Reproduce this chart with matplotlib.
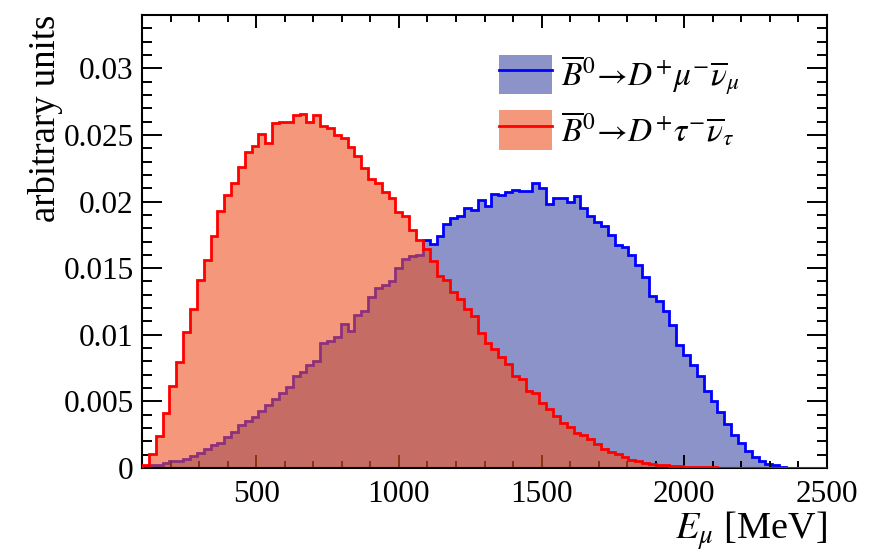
import matplotlib
matplotlib.use('Agg')
import matplotlib.pyplot as plt
import numpy as np
from matplotlib.ticker import MultipleLocator, FuncFormatter
from matplotlib.patches import Patch
from matplotlib.lines import Line2D

plt.rcParams['font.family'] = ['Liberation Serif', 'DejaVu Serif']
plt.rcParams['mathtext.fontset'] = 'stix'

# histogram binning: 100 bins between 100 and 2500 MeV
e_lo = 100
e_hi = 2500
n_bins = 100

# B0 -> D+ mu- nu (blue)
mu_vals = [
    0.0001, 0.0002, 0.00025, 0.00035, 0.0005, 0.00055, 0.00065, 0.0009, 0.00115, 0.0014,
    0.0017, 0.0019, 0.00235, 0.0027, 0.0032, 0.0035, 0.0038, 0.0043, 0.00475, 0.0052,
    0.0056, 0.0061, 0.0069, 0.0072, 0.0077, 0.0080, 0.0094, 0.0095, 0.0098, 0.0108,
    0.0103, 0.0115, 0.0118, 0.0128, 0.0135, 0.0137, 0.0140, 0.0150, 0.0157, 0.0159,
    0.0160, 0.0171, 0.0168, 0.0174, 0.0183, 0.0188, 0.0189, 0.0195, 0.0194, 0.0201,
    0.0197, 0.0206, 0.0205, 0.0207, 0.0209, 0.0208, 0.0208, 0.0214, 0.0210, 0.0198,
    0.0203, 0.0203, 0.0200, 0.0204, 0.0195, 0.0189, 0.0185, 0.0182, 0.0175, 0.0167,
    0.0166, 0.0160, 0.0152, 0.0143, 0.0129, 0.0125, 0.0118, 0.0107, 0.0092, 0.0085,
    0.0077, 0.0069, 0.0058, 0.0050, 0.0042, 0.0033, 0.0025, 0.0019, 0.0013, 0.00085,
    0.0005, 0.0003, 0.0002, 0.00005, 0.0, 0.0, 0.0, 0.0, 0.0, 0.0,
]

# B0 -> D+ tau- nu (red)
tau_vals = [
    0.0002, 0.00105, 0.0024, 0.0041, 0.00615, 0.00795, 0.0102, 0.01195, 0.0141, 0.0156,
    0.0174, 0.0193, 0.0205, 0.0214, 0.0226, 0.02375, 0.0242, 0.0251, 0.0244, 0.0259,
    0.0260, 0.0260, 0.0265, 0.0266, 0.0260, 0.0265, 0.0257, 0.0255, 0.0250, 0.0248,
    0.0241, 0.0234, 0.0225, 0.0217, 0.0214, 0.0207, 0.0203, 0.0192, 0.0189, 0.0179,
    0.0171, 0.0164, 0.0155, 0.0144, 0.0141, 0.0132, 0.0127, 0.0119, 0.0114, 0.0101,
    0.00935, 0.0089, 0.0083, 0.0078, 0.0069, 0.0067, 0.00575, 0.0056, 0.0049, 0.0044,
    0.0039, 0.0034, 0.0031, 0.0026, 0.0025, 0.0022, 0.0018, 0.0014, 0.0012, 0.00105,
    0.00085, 0.00062, 0.0005, 0.0004, 0.00033, 0.00025, 0.0002, 0.00015, 0.00012, 0.0001,
    0.00008, 0.00007, 0.00005, 0.00004, 0.00003, 0.00003, 0.00002, 0.00002, 0.00001, 0.00001,
    0.00001, 0.00001, 0.00001, 0.00001, 0.00001, 0.00001, 0.00001, 0.00001, 0.00001, 0.00001,
]

mu_label = r'$\overline{B}^{0}\!\rightarrow\! D^{+}\mu^{-}\overline{\nu}_{\mu}$'
tau_label = r'$\overline{B}^{0}\!\rightarrow\! D^{+}\tau^{-}\overline{\nu}_{\tau}$'

edges = np.linspace(e_lo, e_hi, n_bins + 1)

fig = plt.figure(figsize=(8.8, 5.52), dpi=100)
ax = fig.add_axes([142/880, 1 - 468/552, (827-142)/880, (468-15)/552])

blue_fill = '#8b93c8'
red_fill = (237/255, 82/255, 33/255)
lw = 2.0

ax.stairs(mu_vals, edges, fill=True, color=blue_fill, zorder=1)
ax.stairs(mu_vals, edges, color='#0000ff', lw=lw, zorder=1.5)
ax.stairs(tau_vals, edges, fill=True, color=red_fill, alpha=0.6, lw=0, zorder=2)
ax.stairs(tau_vals, edges, color='#ff0000', lw=lw, zorder=3)

ax.set_xlim(e_lo, e_hi)
ax.set_ylim(0, 0.034)

ax.xaxis.set_major_locator(MultipleLocator(500))
ax.xaxis.set_minor_locator(MultipleLocator(100))
ax.yaxis.set_major_locator(MultipleLocator(0.005))
ax.yaxis.set_minor_locator(MultipleLocator(0.001))
ax.yaxis.set_major_formatter(FuncFormatter(lambda v, p: '%g' % v))

ax.tick_params(which='both', direction='in', top=True, right=True, width=1.4,
               labelsize=22.5)
ax.tick_params(axis='x', which='major', length=9.5, pad=9)
ax.tick_params(axis='x', which='minor', length=5)
ax.tick_params(axis='y', which='major', length=14.5, pad=6)
ax.tick_params(axis='y', which='minor', length=7.2)
for s in ax.spines.values():
    s.set_linewidth(1.5)

ax.set_xlabel(r'$E_{\mu}$ [MeV]', loc='right', fontsize=27.5, labelpad=0)
ax.set_ylabel('arbitrary units', loc='top', fontsize=26.5, labelpad=0)

h_mu = (Patch(facecolor=blue_fill, edgecolor='none'), Line2D([], [], color='#0000ff', lw=lw))
h_tau = (Patch(facecolor=red_fill, alpha=0.6, edgecolor='none'), Line2D([], [], color='#ff0000', lw=lw))
ax.legend([h_mu, h_tau], [mu_label, tau_label], loc='upper left',
          bbox_to_anchor=(499/880, 1 - 53/552), bbox_transform=fig.transFigure,
          frameon=False, fontsize=24, handlelength=1.6, handleheight=1.45,
          handletextpad=0.25, labelspacing=0.38, borderaxespad=0, borderpad=0)

fig.savefig('out.png', dpi=100)
